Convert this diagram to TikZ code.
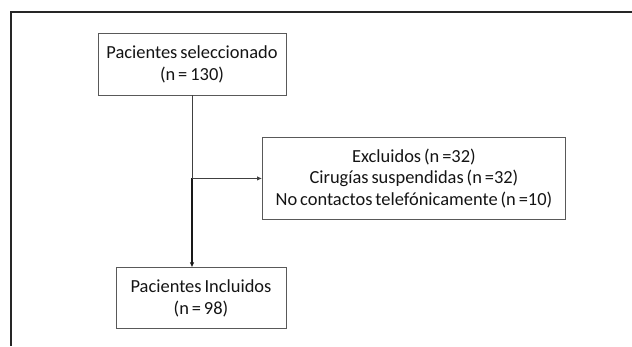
\documentclass[tikz,border=0pt]{standalone}
\usepackage{fontspec}
\setmainfont{Carlito}[WordSpace=0.7]
\usepackage{xcolor}
\usetikzlibrary{
    positioning,
    arrows.meta
}

\begin{document}
\begin{tikzpicture}[
    x=1bp, y=1bp,
    caja/.style={
        rectangle,
        draw=black!65,
        line width=0.9bp,
        inner sep=0pt,
        align=center,
        text=black!92,
        font=\fontsize{18.5}{22}\selectfont
    },
    linea/.style={line width=0.9bp, draw=black!75},
    flecha/.style={line width=1.05bp, draw=black!90, -{Latex[length=5bp, width=4.5bp]}},
    marco/.style={line width=2.5bp, draw=black!85}
]

\useasboundingbox (0,0) rectangle (632,-346);

% Marco
\draw[marco] (11,-346) -- (11,-12) -- (632,-12);

% Cajas
\node[caja, minimum width=188bp, minimum height=62bp] (selec) at (192,-64) {
    Pacientes seleccionado\\(n = 130)
};

\coordinate (rama) at ([yshift=-83bp]selec.south);

\node[caja, minimum width=303bp, minimum height=82bp, right=70bp of rama] (excl) {
    Excluidos (n =32)\\Cirugías suspendidas (n =32)\\No contactos telefónicamente (n =10)
};

\node[caja, minimum width=170bp, minimum height=61bp,
      below left=172bp and 0bp of selec.south east] (incl) {
    Pacientes Incluidos\\(n = 98)
};

% Flechas
\draw[linea] (selec.south) -- (rama);
\draw[flecha] (rama) -- (rama |- incl.north);
\draw[linea, -{Latex[length=5bp, width=4.5bp]}] (rama) -- (excl.west);

\end{tikzpicture}
\end{document}
